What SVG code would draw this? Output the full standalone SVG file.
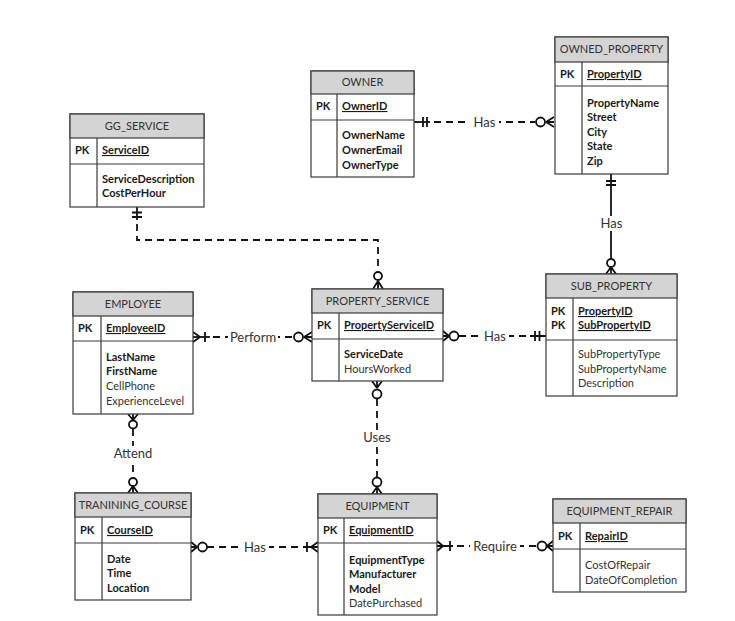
<svg xmlns="http://www.w3.org/2000/svg" width="735" height="621" viewBox="0 0 735 621">
<style>
.box{fill:#fff;stroke:#3a3a3a;stroke-width:1.2}
.hd{fill:#d4d4d4;stroke:#3a3a3a;stroke-width:1.2}
.ln{stroke:#3a3a3a;stroke-width:1.2;fill:none}
text{font-family:Lato,"Liberation Sans",sans-serif;font-size:11px;fill:#1a1a1a}
.h{text-anchor:middle;fill:#333}
.b{font-weight:bold}
.u{font-weight:bold;text-decoration:underline}
.r{fill:#333}
.lab{font-size:13px;fill:#333;text-anchor:middle}
.c{stroke:#111;stroke-width:1.8;fill:none}
.d{stroke-dasharray:7 5}
.o{fill:#fff;stroke:#111;stroke-width:1.8}
</style>
<rect width="735" height="621" fill="#fff"/>

<g id="connectors">
  <!-- OWNER - OWNED_PROPERTY -->
  <path class="c" d="M414,122H430"/>
  <path class="c d" d="M434,122H535"/>
  <path class="c" d="M423,117V127M427,117V127M546,122L554,117M546,122H554M546,122L554,127"/>
  <circle class="o" cx="540.5" cy="122" r="4.5"/>
  <rect x="470" y="114" width="29" height="15" fill="#fff"/>
  <text class="lab" x="484.5" y="126.5">Has</text>

  <!-- OWNED_PROPERTY - SUB_PROPERTY -->
  <path class="c" d="M611,174V259"/>
  <path class="c" d="M606,181H616M606,185H616M611,267L606,274M611,267V274M611,267L616,274"/>
  <circle class="o" cx="611" cy="263" r="4"/>
  <rect x="598" y="216" width="27" height="15" fill="#fff"/>
  <text class="lab" x="611.5" y="228">Has</text>

  <!-- GG_SERVICE - PROPERTY_SERVICE -->
  <path class="c" d="M137,207V220"/>
  <path class="c" d="M132,212.5H142M132,217H142"/>
  <path class="c d" d="M137,224V240H378V271"/>
  <circle class="o" cx="378" cy="276" r="4"/>
  <path class="c" d="M378,281L373,289M378,281V289M378,281L383,289"/>

  <!-- EMPLOYEE - PROPERTY_SERVICE -->
  <path class="c" d="M193,337H210"/>
  <path class="c d" d="M213,337H293"/>
  <path class="c" d="M200,337L193,332M200,337L193,342M205,332V342M304,337L312,332M304,337H312M304,337L312,342"/>
  <circle class="o" cx="298.5" cy="337" r="4.5"/>
  <rect x="228" y="329" width="50" height="15" fill="#fff"/>
  <text class="lab" x="253" y="341.5">Perform</text>

  <!-- PROPERTY_SERVICE - SUB_PROPERTY -->
  <path class="c d" d="M459,336H530"/>
  <path class="c" d="M530,336H546M535,331V341M539.5,331V341M449,336L443,331M449,336H443M449,336L443,341"/>
  <circle class="o" cx="454" cy="336" r="4.5"/>
  <rect x="481" y="328" width="28" height="15" fill="#fff"/>
  <text class="lab" x="495" y="340.5">Has</text>

  <!-- PROPERTY_SERVICE - EQUIPMENT -->
  <path class="c" d="M377,388L372,381M377,388V381M377,388L382,381"/>
  <circle class="o" cx="377" cy="394" r="4.5"/>
  <path class="c d" d="M377,399V477"/>
  <circle class="o" cx="377" cy="482" r="4.5"/>
  <path class="c" d="M377,487L372,494M377,487V494M377,487L382,494"/>
  <rect x="361" y="430" width="32" height="15" fill="#fff"/>
  <text class="lab" x="377" y="442">Uses</text>

  <!-- EMPLOYEE - TRANINING_COURSE -->
  <path class="c" d="M133,420L128,414M133,420V414M133,420L138,414"/>
  <circle class="o" cx="133" cy="424.5" r="4"/>
  <path class="c d" d="M133,429V477"/>
  <circle class="o" cx="133" cy="482" r="4"/>
  <path class="c" d="M133,486L128,493M133,486V493M133,486L138,493"/>
  <rect x="111" y="446" width="44" height="15" fill="#fff"/>
  <text class="lab" x="133" y="458">Attend</text>

  <!-- TRANINING_COURSE - EQUIPMENT -->
  <path class="c" d="M197,547L191,542M197,547H191M197,547L191,552"/>
  <circle class="o" cx="202.5" cy="547" r="4.5"/>
  <path class="c d" d="M207,547H303"/>
  <path class="c" d="M303,547H318M307,542V552M311,547L318,542M311,547L318,552"/>
  <rect x="241" y="539" width="28" height="15" fill="#fff"/>
  <text class="lab" x="255" y="551.5">Has</text>

  <!-- EQUIPMENT - EQUIPMENT_REPAIR -->
  <path class="c" d="M437,546H453M443,546L437,541M443,546L437,551M450,541V551"/>
  <path class="c d" d="M457,546H537"/>
  <circle class="o" cx="542" cy="546" r="4.5"/>
  <path class="c" d="M547,546L553,541M547,546H553M547,546L553,551"/>
  <rect x="470" y="538" width="50" height="15" fill="#fff"/>
  <text class="lab" x="495" y="550.5">Require</text>
</g>

<g id="owner">
  <rect class="box" x="311" y="71" width="103" height="106"/>
  <rect class="hd" x="311" y="71" width="103" height="23"/>
  <path class="ln" d="M311,120H414M337,94V177"/>
  <text class="h" x="362.5" y="86">OWNER</text>
  <text class="b" x="316" y="110">PK</text>
  <text class="u" x="342" y="110">OwnerID</text>
  <text class="b" x="342" y="139">OwnerName</text>
  <text class="b" x="342" y="154">OwnerEmail</text>
  <text class="b" x="342" y="169">OwnerType</text>
</g>

<g id="owned_property">
  <rect class="box" x="555" y="37" width="113" height="137"/>
  <rect class="hd" x="555" y="37" width="113" height="25"/>
  <path class="ln" d="M555,86H668M582,62V174"/>
  <text class="h" x="611.5" y="53">OWNED_PROPERTY</text>
  <text class="b" x="560" y="78">PK</text>
  <text class="u" x="587" y="78">PropertyID</text>
  <text class="b" x="587" y="107">PropertyName</text>
  <text class="b" x="587" y="121">Street</text>
  <text class="b" x="587" y="136">City</text>
  <text class="b" x="587" y="150">State</text>
  <text class="b" x="587" y="165">Zip</text>
</g>

<g id="gg_service">
  <rect class="box" x="70" y="114" width="134" height="93"/>
  <rect class="hd" x="70" y="114" width="134" height="24"/>
  <path class="ln" d="M70,164H204M97,138V207"/>
  <text class="h" x="137" y="130">GG_SERVICE</text>
  <text class="b" x="75" y="154">PK</text>
  <text class="u" x="102" y="154">ServiceID</text>
  <text class="b" x="102" y="183">ServiceDescription</text>
  <text class="b" x="102" y="197">CostPerHour</text>
</g>

<g id="employee">
  <rect class="box" x="73" y="292" width="120" height="122"/>
  <rect class="hd" x="73" y="292" width="120" height="24"/>
  <path class="ln" d="M73,341H193M101,316V414"/>
  <text class="h" x="133" y="308">EMPLOYEE</text>
  <text class="b" x="78" y="332">PK</text>
  <text class="u" x="106" y="332">EmployeeID</text>
  <text class="b" x="106" y="361">LastName</text>
  <text class="b" x="106" y="375">FirstName</text>
  <text class="r" x="106" y="390">CellPhone</text>
  <text class="r" x="106" y="405">ExperienceLevel</text>
</g>

<g id="property_service">
  <rect class="box" x="312" y="289" width="131" height="92"/>
  <rect class="hd" x="312" y="289" width="131" height="24"/>
  <path class="ln" d="M312,339H443M339,313V381"/>
  <text class="h" x="377.5" y="305">PROPERTY_SERVICE</text>
  <text class="b" x="317" y="329">PK</text>
  <text class="u" x="344" y="329">PropertyServiceID</text>
  <text class="b" x="344" y="358">ServiceDate</text>
  <text class="r" x="344" y="373">HoursWorked</text>
</g>

<g id="sub_property">
  <rect class="box" x="546" y="274" width="131" height="122"/>
  <rect class="hd" x="546" y="274" width="131" height="24"/>
  <path class="ln" d="M546,340H677M573,298V396"/>
  <text class="h" x="611.5" y="290">SUB_PROPERTY</text>
  <text class="b" x="551" y="315">PK</text>
  <text class="b" x="551" y="329">PK</text>
  <text class="u" x="578" y="315">PropertyID</text>
  <text class="u" x="578" y="329">SubPropertyID</text>
  <text class="r" x="578" y="358">SubPropertyType</text>
  <text class="r" x="578" y="373">SubPropertyName</text>
  <text class="r" x="578" y="387">Description</text>
</g>

<g id="training_course">
  <rect class="box" x="75" y="493" width="116" height="107"/>
  <rect class="hd" x="75" y="493" width="116" height="24"/>
  <path class="ln" d="M75,543H191M102,517V600"/>
  <text class="h" x="133" y="509">TRANINING_COURSE</text>
  <text class="b" x="80" y="534">PK</text>
  <text class="u" x="107" y="534">CourseID</text>
  <text class="b" x="107" y="563">Date</text>
  <text class="b" x="107" y="577">Time</text>
  <text class="b" x="107" y="592">Location</text>
</g>

<g id="equipment">
  <rect class="box" x="318" y="494" width="119" height="121"/>
  <rect class="hd" x="318" y="494" width="119" height="24"/>
  <path class="ln" d="M318,543H437M344,518V615"/>
  <text class="h" x="377.5" y="510">EQUIPMENT</text>
  <text class="b" x="323" y="534">PK</text>
  <text class="u" x="349" y="534">EquipmentID</text>
  <text class="b" x="349" y="564">EquipmentType</text>
  <text class="b" x="349" y="578">Manufacturer</text>
  <text class="b" x="349" y="593">Model</text>
  <text class="r" x="349" y="607">DatePurchased</text>
</g>

<g id="equipment_repair">
  <rect class="box" x="553" y="499" width="133" height="93"/>
  <rect class="hd" x="553" y="499" width="133" height="24"/>
  <path class="ln" d="M553,549H686M580,523V592"/>
  <text class="h" x="619.5" y="515">EQUIPMENT_REPAIR</text>
  <text class="b" x="558" y="540">PK</text>
  <text class="u" x="585" y="540">RepairID</text>
  <text class="r" x="585" y="569">CostOfRepair</text>
  <text class="r" x="585" y="584">DateOfCompletion</text>
</g>
</svg>
